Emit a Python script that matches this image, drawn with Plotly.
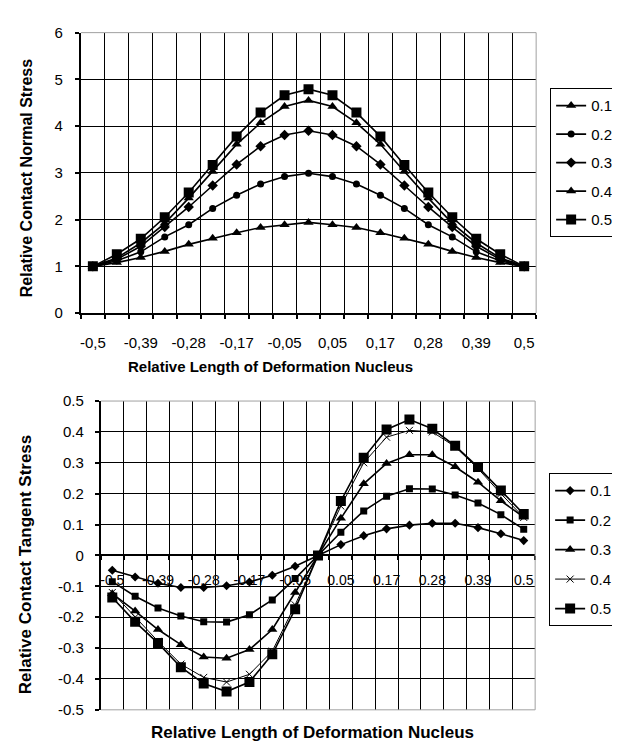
import plotly.graph_objects as go

# ---------------- data ----------------
# 19 equally spaced positions along the deformation nucleus (-0.5 ... 0.5)
categories = ["-0.5", "-0.44", "-0.39", "-0.33", "-0.28", "-0.22", "-0.17", "-0.11", "-0.05",
              "0", "0.05", "0.11", "0.17", "0.22", "0.28", "0.33", "0.39", "0.44", "0.5"]
label_index = [0, 2, 4, 6, 8, 10, 12, 14, 16, 18]
top_tick_text = ["-0,5", "-0,39", "-0,28", "-0,17", "-0,05", "0,05", "0,17", "0,28", "0,39", "0,5"]
bottom_tick_text = ["-0.5", "-0.39", "-0.28", "-0.17", "-0.05", "0.05", "0.17", "0.28", "0.39", "0.5"]

series_names = ["0.1", "0.2", "0.3", "0.4", "0.5"]

# Relative contact normal stress
normal_01 = [1.00, 1.08, 1.19, 1.32, 1.47, 1.60, 1.72, 1.83, 1.89, 1.94, 1.89, 1.83, 1.72, 1.60, 1.47, 1.32, 1.19, 1.08, 1.00]
normal_02 = [1.00, 1.12, 1.31, 1.63, 1.89, 2.24, 2.52, 2.76, 2.92, 2.99, 2.92, 2.76, 2.52, 2.24, 1.89, 1.63, 1.31, 1.12, 1.00]
normal_03 = [1.00, 1.15, 1.43, 1.84, 2.27, 2.73, 3.18, 3.57, 3.81, 3.90, 3.81, 3.57, 3.18, 2.73, 2.27, 1.84, 1.43, 1.15, 1.00]
normal_04 = [1.00, 1.18, 1.50, 1.92, 2.46, 3.03, 3.61, 4.07, 4.42, 4.55, 4.42, 4.07, 3.61, 3.03, 2.46, 1.92, 1.50, 1.18, 1.00]
normal_05 = [1.00, 1.26, 1.59, 2.05, 2.58, 3.17, 3.78, 4.29, 4.66, 4.79, 4.66, 4.29, 3.78, 3.17, 2.58, 2.05, 1.59, 1.26, 1.00]

# Relative contact tangent stress
tangent_01 = [-0.048, -0.070, -0.090, -0.104, -0.104, -0.098, -0.086, -0.064, -0.035, 0.0,
              0.035, 0.064, 0.086, 0.098, 0.104, 0.104, 0.090, 0.070, 0.048]
tangent_02 = [-0.085, -0.132, -0.170, -0.196, -0.215, -0.216, -0.192, -0.144, -0.075, 0.0,
              0.075, 0.144, 0.192, 0.216, 0.215, 0.196, 0.170, 0.132, 0.085]
tangent_03 = [-0.124, -0.180, -0.240, -0.289, -0.329, -0.333, -0.305, -0.240, -0.120, 0.0,
              0.120, 0.232, 0.298, 0.326, 0.326, 0.287, 0.237, 0.177, 0.124]
tangent_04 = [-0.120, -0.200, -0.278, -0.352, -0.395, -0.410, -0.385, -0.310, -0.160, 0.0,
              0.160, 0.300, 0.383, 0.405, 0.400, 0.352, 0.281, 0.200, 0.123]
tangent_05 = [-0.136, -0.215, -0.284, -0.362, -0.415, -0.441, -0.410, -0.320, -0.174, 0.0,
              0.176, 0.316, 0.408, 0.440, 0.410, 0.355, 0.286, 0.210, 0.134]

normal_ticks = [0, 1, 2, 3, 4, 5, 6]
tangent_ticks = [-0.5, -0.4, -0.3, -0.2, -0.1, 0, 0.1, 0.2, 0.3, 0.4, 0.5]
tangent_tick_text = ["-0.5", "-0.4", "-0.3", "-0.2", "-0.1", "0", "0.1", "0.2", "0.3", "0.4", "0.5"]

# ---------------- styles ----------------
W, H = 620, 745
FONT = "Liberation Sans, Arial, sans-serif"
x_pos = list(range(len(categories)))

top_symbols = ["triangle-up", "circle", "diamond", "triangle-up", "square"]
top_sizes = [9, 7, 8, 9, 10]
bot_symbols = ["diamond", "square", "triangle-up", "x-thin", "square"]
bot_sizes = [7, 7, 9, 7, 10]

fig = go.Figure()

for name, vals, sym, sz in zip(series_names,
                               [normal_01, normal_02, normal_03, normal_04, normal_05],
                               top_symbols, top_sizes):
    fig.add_trace(go.Scatter(
        x=x_pos, y=vals, name=name, mode="lines+markers",
        xaxis="x", yaxis="y", legend="legend", legendgroup="t" + name,
        line=dict(color="black", width=1.6),
        marker=dict(symbol=sym, size=sz, color="black"),
    ))

for name, vals, sym, sz in zip(series_names,
                               [tangent_01, tangent_02, tangent_03, tangent_04, tangent_05],
                               bot_symbols, bot_sizes):
    mk = dict(symbol=sym, size=sz, color="black")
    if sym == "x-thin":
        mk["line"] = dict(color="black", width=1)
    fig.add_trace(go.Scatter(
        x=x_pos, y=vals, name=name, mode="lines+markers",
        xaxis="x2", yaxis="y2", legend="legend2", legendgroup="b" + name,
        line=dict(color="black", width=1.6 if sym != "x-thin" else 1),
        marker=mk,
    ))

top_dom_x = [72 / W, 528 / W]
top_dom_y = [(H - 303) / H, (H - 16) / H]
bot_dom_x = [92 / W, 527 / W]
bot_dom_y = [(H - 709) / H, (H - 393) / H]
bot_zero = bot_dom_y[0] + 0.5 * (bot_dom_y[1] - bot_dom_y[0])

minor_grid = dict(tickmode="linear", tick0=0.5, dtick=1, showgrid=True, gridcolor="black",
                  gridwidth=1.2, ticks="outside", ticklen=4, tickwidth=2, tickcolor="black")

fig.update_layout(
    width=W, height=H,
    margin=dict(l=0, r=0, t=0, b=0),
    paper_bgcolor="white", plot_bgcolor="white",
    font=dict(family=FONT, color="black", size=15),
    showlegend=True,
    xaxis=dict(domain=top_dom_x, anchor="y", range=[-0.5, 18.5],
               tickmode="array", tickvals=label_index, ticktext=top_tick_text,
               ticks="", showgrid=False, zeroline=False, tickangle=0,
               ticklabelstandoff=15, tickfont=dict(size=15),
               showline=True, linecolor="black", linewidth=2,
               minor=minor_grid),
    yaxis=dict(domain=top_dom_y, anchor="x", range=[0, 6],
               tickmode="array", tickvals=normal_ticks, ticktext=[str(v) for v in normal_ticks],
               ticks="outside", ticklen=4, tickwidth=2, tickcolor="black",
               showgrid=True, gridcolor="black", gridwidth=1.2, zeroline=False,
               showline=True, linecolor="black", linewidth=2,
               ticklabelstandoff=9, tickfont=dict(size=15)),
    xaxis2=dict(domain=bot_dom_x, anchor="free", position=bot_zero, range=[-0.5, 18.5],
                tickmode="array", tickvals=label_index, ticktext=bottom_tick_text,
                ticks="", showgrid=False, zeroline=False, tickangle=0,
                ticklabelstandoff=12, tickfont=dict(size=14),
                showline=True, linecolor="black", linewidth=2,
                minor=dict(minor_grid, tick0=-0.5)),
    yaxis2=dict(domain=bot_dom_y, anchor="x2", range=[-0.5, 0.5],
                tickmode="array", tickvals=tangent_ticks, ticktext=tangent_tick_text,
                ticks="outside", ticklen=4, tickwidth=2, tickcolor="black",
                showgrid=True, gridcolor="black", gridwidth=1.2, zeroline=False,
                showline=True, linecolor="black", linewidth=2,
                ticklabelstandoff=8, tickfont=dict(size=15)),
    legend=dict(x=542 / W, y=(H - 73) / H, xanchor="left", yanchor="top",
                bordercolor="black", borderwidth=1, bgcolor="white",
                font=dict(size=15), tracegroupgap=6, entrywidth=45),
    legend2=dict(x=541 / W, y=(H - 467) / H, xanchor="left", yanchor="top",
                 bordercolor="black", borderwidth=1, bgcolor="white",
                 font=dict(size=15), tracegroupgap=7, entrywidth=45),
)

gray = dict(color="#a0a0a0", width=1)
shapes = [
    dict(type="line", xref="x domain", yref="y domain", x0=0, x1=1, y0=1, y1=1, line=gray, layer="above"),
    dict(type="line", xref="x domain", yref="y domain", x0=1, x1=1, y0=0, y1=1, line=gray, layer="above"),
    dict(type="line", xref="x2 domain", yref="y2 domain", x0=0, x1=1, y0=1, y1=1, line=gray, layer="above"),
    dict(type="line", xref="x2 domain", yref="y2 domain", x0=1, x1=1, y0=0, y1=1, line=gray, layer="above"),
    dict(type="line", xref="x2 domain", yref="y2 domain", x0=0, x1=1, y0=0, y1=0, line=gray, layer="above"),
]
fig.update_layout(shapes=shapes)

annotations = [
    dict(text="<b>Relative Contact Normal Stress</b>", x=17 / W, y=(H - 165) / H,
         textangle=-90, font=dict(size=16)),
    dict(text="<b>Relative Length of Deformation Nucleus</b>", x=262 / W, y=(H - 358) / H,
         font=dict(size=15)),
    dict(text="<b>Relative Contact Tangent Stress</b>", x=16 / W, y=(H - 560) / H,
         textangle=-90, font=dict(size=17)),
    dict(text="<b>Relative Length of Deformation Nucleus</b>", x=304 / W, y=(H - 732) / H,
         font=dict(size=17)),
]
for a in annotations:
    a.update(xref="paper", yref="paper", showarrow=False, xanchor="center", yanchor="middle")
fig.update_layout(annotations=annotations)

fig.write_html("out.html")
